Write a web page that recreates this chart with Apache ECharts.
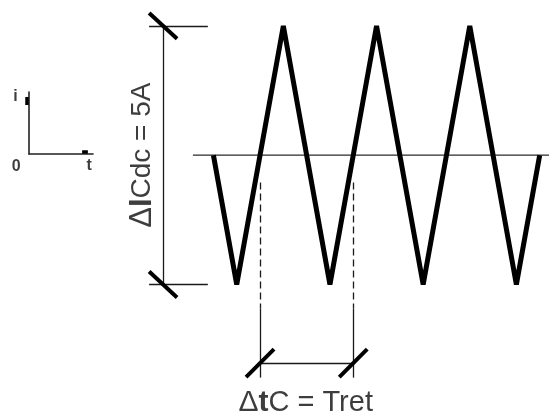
<!DOCTYPE html>
<html>
<head>
<meta charset="utf-8">
<script src="https://cdn.jsdelivr.net/npm/echarts@6/dist/echarts.min.js"></script>
<style>
  html, body { margin: 0; padding: 0; background: #fff; }
  #chart { width: 549px; height: 419px; }
</style>
</head>
<body>
<div id="chart"></div>
<script>
// Triangular ripple of the capacitor current around its DC level.
// Time is measured in ripple periods T, current in amperes.
const rippleTime    = [0, 0.25, 0.75, 1.25, 1.75, 2.25, 2.75, 3.25, 3.5];
const rippleCurrent = [0, -2.5, 2.5, -2.5, 2.5, -2.5, 2.5, -2.5, 0];
const rippleP2P = 5;                 // ΔI, peak to peak (A)
const periodStart = 0.5;             // rising zero crossing
const periodEnd = 1.5;               // next rising zero crossing (one period later)
const labelDeltaI = 'Cdc = 5A';
const labelDeltaT = 'C = Tret';

const iTop = rippleP2P / 2, iBot = -rippleP2P / 2;
const dimT = -0.54;                  // vertical dimension line position (time units)
const dimIBottom = -4.02;            // horizontal dimension line position (A)

const ink = '#0d0d0d';
const thin = { color: '#1a1a1a', width: 1.3, opacity: 1 };
const dashed = { color: '#1a1a1a', width: 1.3, opacity: 1, type: [7, 4] };
const slash = { color: '#000', width: 4, opacity: 1 };

const seg = (a, b, style) => ({ coords: [a, b], lineStyle: style });

const dimensionSegments = [
  // ΔI dimension
  seg([-0.69, iTop], [-0.06, iTop], thin),
  seg([-0.69, iBot], [-0.06, iBot], thin),
  seg([dimT, iTop], [dimT, iBot], thin),
  seg([dimT - 0.15, iTop + 0.25], [dimT + 0.15, iTop - 0.25], slash),
  seg([dimT - 0.15, iBot + 0.25], [dimT + 0.15, iBot - 0.25], slash),
  // Δt dimension
  seg([periodStart, -0.53], [periodStart, -2.96], dashed),
  seg([periodEnd, -0.53], [periodEnd, -2.96], dashed),
  seg([periodStart, -2.96], [periodStart, -4.3], thin),
  seg([periodEnd, -2.96], [periodEnd, -4.3], thin),
  seg([periodStart, dimIBottom], [periodEnd, dimIBottom], thin),
  seg([periodStart - 0.15, dimIBottom - 0.27], [periodStart + 0.15, dimIBottom + 0.27], slash),
  seg([periodEnd - 0.15, dimIBottom - 0.27], [periodEnd + 0.15, dimIBottom + 0.27], slash)
];

const chart = echarts.init(document.getElementById('chart'), null, { renderer: 'canvas' });

const hiddenAxis = {
  type: 'value',
  axisLine: { show: false }, axisTick: { show: false },
  axisLabel: { show: false }, splitLine: { show: false }
};

const iconAxis = {
  type: 'value', min: 0, max: 1,
  axisLine: { show: true, onZero: false, lineStyle: { color: '#222', width: 1.6 } },
  axisTick: { show: false }, axisLabel: { show: false }, splitLine: { show: false }
};

const font = '"Liberation Sans", Arial, sans-serif';
const iconLabel = (text) => ({
  show: true, position: 'inside', formatter: text,
  fontFamily: font, fontSize: 16, fontWeight: 'bold', color: ink
});

chart.setOption({
  backgroundColor: '#fff',
  animation: false,
  grid: [
    { left: 27, right: 0, top: 0, bottom: 0 },
    { left: 29, top: 92, width: 64, height: 62 }
  ],
  xAxis: [
    Object.assign({ gridIndex: 0, min: -2, max: 3.6 }, hiddenAxis),
    Object.assign({ gridIndex: 1 }, iconAxis)
  ],
  yAxis: [
    Object.assign({ gridIndex: 0, min: -5.1, max: 3 }, hiddenAxis),
    Object.assign({ gridIndex: 1 }, iconAxis)
  ],
  series: [
    {
      name: 'DC level',
      type: 'line',
      xAxisIndex: 0, yAxisIndex: 0,
      data: [[-0.22, 0], [3.6, 0]],
      symbol: 'none',
      lineStyle: { color: '#2a2a2a', width: 1.3 },
      silent: true
    },
    {
      name: 'iC',
      type: 'line',
      xAxisIndex: 0, yAxisIndex: 0,
      data: rippleTime.map((t, k) => [t, rippleCurrent[k]]),
      symbol: 'none',
      lineStyle: { color: '#000', width: 5, join: 'miter', miterLimit: 4, cap: 'butt' },
      silent: true
    },
    {
      name: 'dimensions',
      type: 'lines',
      coordinateSystem: 'cartesian2d',
      xAxisIndex: 0, yAxisIndex: 0,
      clip: false,
      data: dimensionSegments,
      silent: true
    },
    {
      name: 'labels',
      type: 'scatter',
      xAxisIndex: 0, yAxisIndex: 0,
      symbolSize: 0,
      clip: false,
      silent: true,
      data: [
        {
          value: [-0.76, 0.0],
          label: {
            show: true, position: 'inside', rotate: 90,
            formatter: '{d|Δ}{b|I}{s|' + labelDeltaI + '}',
            rich: {
              d: { fontFamily: font, fontSize: 31, color: ink },
              b: { fontFamily: font, fontSize: 31, fontWeight: 'bold', color: ink },
              s: { fontFamily: font, fontSize: 28, color: ink }
            }
          }
        },
        {
          value: [0.99, -4.79],
          label: {
            show: true, position: 'inside',
            formatter: '{d|Δ}{b|t}{s|' + labelDeltaT + '}',
            rich: {
              d: { fontFamily: font, fontSize: 30, color: ink },
              b: { fontFamily: font, fontSize: 30, fontWeight: 'bold', color: ink },
              s: { fontFamily: font, fontSize: 29, color: ink }
            }
          }
        }
      ]
    },
    {
      name: 'icon marks',
      type: 'lines',
      coordinateSystem: 'cartesian2d',
      xAxisIndex: 1, yAxisIndex: 1,
      clip: false,
      silent: true,
      data: [
        seg([-0.03, 0.79], [-0.03, 0.92], { color: '#000', width: 3.5, opacity: 1 }),
        seg([0.83, 0.03], [0.92, 0.03], { color: '#000', width: 3.5, opacity: 1 })
      ]
    },
    {
      name: 'icon labels',
      type: 'scatter',
      xAxisIndex: 1, yAxisIndex: 1,
      symbolSize: 0,
      clip: false,
      silent: true,
      data: [
        { value: [-0.21, 0.92], label: iconLabel('i') },
        { value: [-0.2, -0.21], label: iconLabel('0') },
        { value: [0.94, -0.19], label: iconLabel('t') }
      ]
    }
  ]
});
</script>
</body>
</html>
